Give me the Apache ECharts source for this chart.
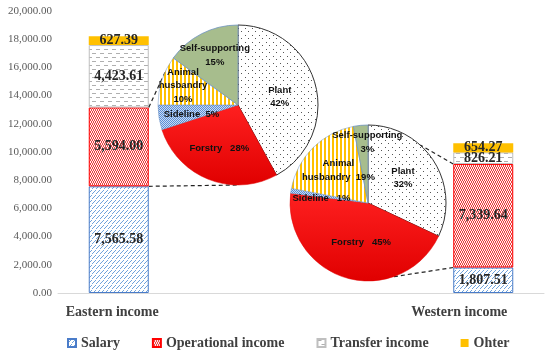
<!DOCTYPE html>
<html>
<head>
<meta charset="utf-8">
<script src="https://cdn.jsdelivr.net/npm/echarts@6/dist/echarts.min.js"></script>
<style>html,body{margin:0;padding:0;background:#fff}#c{width:550px;height:354px}</style>
</head>
<body>
<div id="c"></div>
<script>
// ---- data ----
const regions = ['Eastern income', 'Western income'];
const salary = [7565.58, 1807.51];
const operational = [5594.00, 7339.64];
const transfer = [4423.61, 826.21];
const other = [627.39, 654.27];
const yTicksMax = 20000;
const yTickStep = 2000;
const pieNames = ['Plant', 'Forstry', 'Sideline', 'Animal husbandry', 'Self-supporting'];
const eastPie = [42, 28, 5, 10, 15];
const westPie = [32, 45, 1, 19, 3];

// ---- styling helpers ----
function pattern(w, h, bg, fg, px) {
  const c = document.createElement('canvas');
  c.width = w; c.height = h;
  const g = c.getContext('2d');
  g.fillStyle = bg; g.fillRect(0, 0, w, h);
  g.fillStyle = fg;
  px.forEach(p => g.fillRect(p[0], p[1], p[2] || 1, p[3] || 1));
  return { image: c, repeat: 'repeat' };
}
const salaryPat = pattern(4, 5, '#ffffff', '#6FA3DC', [[0,3],[1,2],[2,1],[3,0]]);
const operPat = pattern(4, 4, '#FFF2F2', '#EC3F3F', [[0,0],[1,1],[2,0],[3,1],[1,2],[0,3],[3,2],[2,3]]);
const transPat = pattern(8, 8, '#ffffff', '#AFAFAF', [[0,1,4,1],[4,5,4,1]]);
const plantPat = pattern(7, 7, '#ffffff', '#555555', [[0,0],[3,3]]);
const sidePat = pattern(2, 2, '#C9DBF2', '#5B8ED6', [[0,0],[1,1]]);
const animalPat = pattern(4, 1, '#ffffff', '#FFC000', [[0,0,2,1]]);
const forstry = new echarts.graphic.LinearGradient(0, 0, 0, 1, [{offset:0,color:'#FF2020'},{offset:1,color:'#E00000'}]);
const sliceStyles = [
  { color: plantPat, borderColor: '#333333', borderWidth: 1 },
  { color: forstry, borderColor: '#E00000', borderWidth: 0.5 },
  { color: sidePat, borderColor: '#6F93C0', borderWidth: 0.5 },
  { color: animalPat, borderColor: '#6F93C0', borderWidth: 0.5 },
  { color: '#A7BD8D', borderColor: '#6F93C0', borderWidth: 0.8 }
];
const eastModes = ['lines', 'inline3', 'inline2', 'lines', 'lines'];
const westModes = ['lines', 'inline3', 'inline3', 'split', 'lines'];
// label offsets from the half-radius point on each slice's middle angle
const eastShift = [[3,2],[-4,6],[-7,3],[-17,-7],[-5,-14]];
const westShift = [[2,-4],[4,2],[-8,1],[-2,-5],[3,-22]];

function fmtLabel(modes) {
  return function (p) {
    const m = modes[p.dataIndex];
    const pct = p.percent + '%';
    if (m === 'lines') return p.name.split(' ').join('\n') + '\n' + pct;
    if (m === 'inline3') return p.name + '   ' + pct;
    if (m === 'inline2') return p.name + '  ' + pct;
    return p.name.split(' ').join('\n') + '  ' + pct;
  };
}
function pieData(vals) {
  return vals.map((v, i) => ({ name: pieNames[i], value: v, itemStyle: sliceStyles[i] }));
}
function labelPos(pie, vals, shifts) {
  const tot = vals.reduce((a, b) => a + b, 0);
  let acc = 0;
  return vals.map((v, i) => {
    const mid = (acc + v / 2) / tot * 2 * Math.PI;
    acc += v;
    return [pie.c[0] + pie.r / 2 * Math.sin(mid) + shifts[i][0], pie.c[1] - pie.r / 2 * Math.cos(mid) + shifts[i][1]];
  });
}

const cats = [regions[0], '_g1', '_g2', regions[1]];
function spread(a) { return [a[0], '-', '-', a[1]]; }
const serif = 'Liberation Serif';
const barLabel = {
  show: true, position: 'inside', color: '#262626', fontFamily: serif, fontWeight: 'bold', fontSize: 14,
  formatter: p => Number(p.value).toLocaleString('en-US', { minimumFractionDigits: 2, maximumFractionDigits: 2 })
};
function barSeries(name, vals, style) {
  return { name, type: 'bar', stack: 'inc', barWidth: 60, data: spread(vals), itemStyle: style, label: barLabel, z: 2 };
}

const PIE1 = { c: [238, 105], r: 80 };
const PIE2 = { c: [368, 203], r: 78 };
const pos1 = labelPos(PIE1, eastPie, eastShift);
const pos2 = labelPos(PIE2, westPie, westShift);
const pieLabel = { show: true, position: 'inside', align: 'center', verticalAlign: 'middle', color: '#111', fontFamily: 'Liberation Sans', fontWeight: 'bold', fontSize: 9.5, lineHeight: 13.5 };

const chart = echarts.init(document.getElementById('c'));
chart.setOption({
  animation: false,
  grid: { left: 58, right: 6, top: 11, bottom: 61 },
  legend: {
    left: 67, top: 336, padding: 0, itemWidth: 8, itemHeight: 8, itemGap: 32, icon: 'rect',
    data: ['Salary', 'Operational income', 'Transfer income', 'Ohter'],
    textStyle: { fontFamily: serif, fontWeight: 'bold', fontSize: 14, color: '#404040' }
  },
  xAxis: {
    type: 'category', data: cats,
    axisLine: { lineStyle: { color: '#D9D9D9', width: 1 } },
    axisTick: { show: false },
    axisLabel: {
      interval: 0, margin: 12,
      formatter: v => v === regions[0] ? '{e|' + v + '}' : (v === regions[1] ? '{w|' + v + '}' : ''),
      rich: {
        e: { fontFamily: serif, fontWeight: 'bold', fontSize: 14, color: '#404040', padding: [0, 13, 0, 0] },
        w: { fontFamily: serif, fontWeight: 'bold', fontSize: 14, color: '#404040', padding: [0, 48, 0, 0] }
      }
    }
  },
  yAxis: {
    type: 'value', min: 0, max: yTicksMax, interval: yTickStep,
    splitLine: { show: false }, axisLine: { show: false }, axisTick: { show: false },
    axisLabel: {
      margin: 6, fontFamily: serif, fontSize: 11, color: '#595959',
      formatter: v => v.toLocaleString('en-US', { minimumFractionDigits: 2, maximumFractionDigits: 2 })
    }
  },
  series: [
    barSeries('Salary', salary, { color: salaryPat, borderColor: '#4A7CC9', borderWidth: 1 }),
    barSeries('Operational income', operational, { color: operPat, borderColor: '#FF0000', borderWidth: 1 }),
    barSeries('Transfer income', transfer, { color: transPat, borderColor: '#BFBFBF', borderWidth: 1 }),
    barSeries('Ohter', other, { color: '#FFC000' }),
    {
      type: 'pie', center: PIE1.c, radius: PIE1.r, startAngle: 90, clockwise: true, percentPrecision: 0, z: 5,
      data: pieData(eastPie), label: Object.assign({ formatter: fmtLabel(eastModes) }, pieLabel), labelLine: { show: false },
      labelLayout: p => ({ x: pos1[p.dataIndex][0], y: pos1[p.dataIndex][1], align: 'center', verticalAlign: 'middle' }),
      emphasis: { disabled: true }
    },
    {
      type: 'pie', center: PIE2.c, radius: PIE2.r, startAngle: 90, clockwise: true, percentPrecision: 0, z: 5,
      data: pieData(westPie), label: Object.assign({ formatter: fmtLabel(westModes) }, pieLabel), labelLine: { show: false },
      labelLayout: p => ({ x: pos2[p.dataIndex][0], y: pos2[p.dataIndex][1], align: 'center', verticalAlign: 'middle' }),
      emphasis: { disabled: true }
    }
  ]
});

// connector lines: from the operational segment corners to the pies
function piePt(pie, deg) {
  const a = deg * Math.PI / 180;
  return [pie.c[0] + pie.r * Math.sin(a), pie.c[1] - pie.r * Math.cos(a)];
}
const half = 30;
const eBot = chart.convertToPixel({ gridIndex: 0 }, [0, salary[0]]);
const eTop = chart.convertToPixel({ gridIndex: 0 }, [0, salary[0] + operational[0]]);
const wBot = chart.convertToPixel({ gridIndex: 0 }, [3, salary[1]]);
const wTop = chart.convertToPixel({ gridIndex: 0 }, [3, salary[1] + operational[1]]);
const dash = { stroke: '#222', lineWidth: 1.2, lineDash: [4, 3], fill: null };
function seg(p1, p2) { return { type: 'line', z: 4, shape: { x1: p1[0], y1: p1[1], x2: p2[0], y2: p2[1] }, style: dash }; }
chart.setOption({
  graphic: [
    seg([eTop[0] + half, eTop[1]], piePt(PIE1, 294)),
    seg([eBot[0] + half, eBot[1]], piePt(PIE1, 180)),
    seg([wTop[0] - half, wTop[1]], piePt(PIE2, 42)),
    seg([wBot[0] - half, wBot[1]], piePt(PIE2, 161))
  ]
});
</script>
</body>
</html>
